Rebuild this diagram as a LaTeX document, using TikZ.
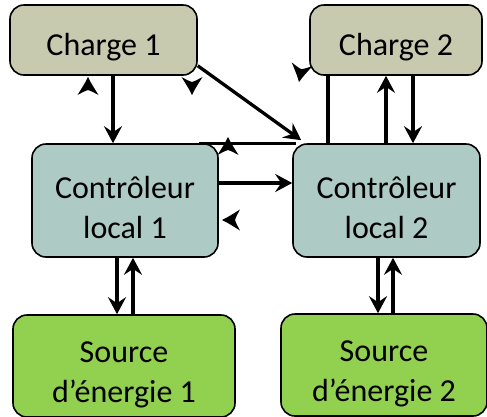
\documentclass[tikz,border=0pt]{standalone}
\usepackage{fontspec}
\setmainfont{Carlito}
\usetikzlibrary{arrows.meta}
\definecolor{chargefill}{RGB}{200,202,176}
\definecolor{ctrlfill}{RGB}{174,202,197}
\definecolor{srcfill}{RGB}{146,208,80}
\tikzset{
  box/.style={draw=black, line width=1.6pt, rounded corners=14pt, inner sep=0pt},
  boxtext/.style={font=\fontsize{32}{40}\selectfont, align=center},
  chargebox/.style={box, fill=chargefill},
  ctrlbox/.style={box, fill=ctrlfill},
  srcbox/.style={box, fill=srcfill},
  link/.style={line width=3.3pt},
  arr/.style={link, -{Stealth[length=17pt,width=18pt,inset=6pt]}},
  tiphead/.pic={\fill (0,0) .. controls (-6pt,3pt) .. (-18pt,10.5pt)
      .. controls (-14pt,3pt) .. (-13pt,0) .. controls (-14pt,-3pt) .. (-18pt,-10.5pt)
      .. controls (-6pt,-3pt) .. (0,0);}
}
\begin{document}
\begin{tikzpicture}[x=1pt,y=-1pt]
\useasboundingbox (0,0) rectangle (487,416);

% blocks, with their captions set a little below centre
\node[chargebox, minimum width=187pt, minimum height=70pt,
      label={[boxtext, yshift=-7pt]center:Charge 1}] (ch1) at (103.5,40) {};
\node[chargebox, minimum width=172pt, minimum height=70pt,
      label={[boxtext, yshift=-7pt]center:Charge 2}] (ch2) at (396,40) {};
\node[ctrlbox, minimum width=186pt, minimum height=113pt,
      label={[boxtext, yshift=-7pt]center:Contrôleur\\local 1}] (ct1) at (125,200.5) {};
\node[ctrlbox, minimum width=187pt, minimum height=113pt,
      label={[boxtext, yshift=-7pt]center:Contrôleur\\local 2}] (ct2) at (386.5,200.5) {};
\node[srcbox, minimum width=222pt, minimum height=102pt,
      label={[boxtext, yshift=-9pt]center:Source\\d’énergie 1}] (so1) at (124,366) {};
\node[srcbox, minimum width=206pt, minimum height=102pt,
      label={[boxtext, yshift=-9pt]center:Source\\d’énergie 2}] (so2) at (384,365) {};

% charge 1 links
\draw[arr] ([xshift=9.5pt]ch1.south) -- ([xshift=-12pt]ct1.north);
\draw[arr] ([yshift=10pt]ch1.south east) -- ([xshift=9pt,yshift=3pt]ct2.north west);

% controller links
\draw[link] ([xshift=-20pt]ct1.north east) -- ([xshift=4pt]ct2.north west);
\draw[arr] ([yshift=17.5pt]ct1.east) -- ([yshift=17.5pt]ct2.west);

% charge 2 links
\draw[link] ([xshift=-68pt]ch2.south) -- ([xshift=-58.5pt]ct2.north);
\draw[arr] ([xshift=-0.5pt]ct2.north) -- ([xshift=-10pt]ch2.south);
\draw[arr] ([xshift=17pt]ch2.south) -- ([xshift=26.5pt]ct2.north);

% source links
\draw[arr, line width=4.3pt] ([xshift=-8pt]ct1.south) -- ([xshift=-7pt]so1.north);
\draw[arr] ([xshift=9pt]so1.north) -- ([xshift=8pt]ct1.south);
\draw[arr] ([xshift=-8.5pt]ct2.south) -- ([xshift=-6pt]so2.north);
\draw[arr] ([xshift=9pt]so2.north) -- ([xshift=6.5pt]ct2.south);

% loose arrow heads
\pic[rotate=90] at (88,77) {tiphead};
\pic[rotate=-90] at (192,95) {tiphead};
\pic[rotate=-100] at (299,82) {tiphead};
\pic[rotate=90] at (228,137) {tiphead};
\pic[rotate=180] at (222,220) {tiphead};
\end{tikzpicture}
\end{document}
